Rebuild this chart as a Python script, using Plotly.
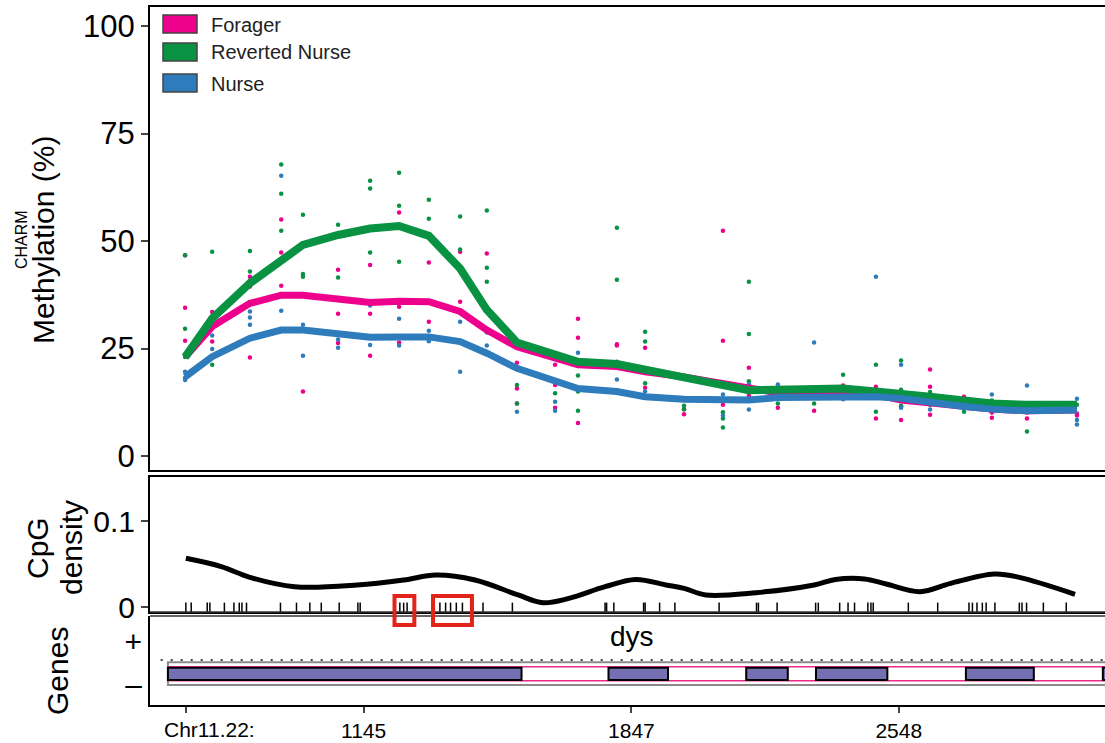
import plotly.graph_objects as go

# ---------------- data ----------------
# CHARM probe positions along the locus (bp)
probe_pos = [677, 748, 847, 929, 986, 1078, 1162, 1238, 1316, 1398, 1468, 1547, 1647, 1707,
             1809, 1883, 1985, 2087, 2155, 2231, 2326, 2402, 2488, 2554, 2630, 2719, 2792,
             2884, 3015]

# smoothed group methylation (%)
forager_mean = [23.0, 30.1, 35.5, 37.4, 37.4, 36.3, 35.7, 36.0, 35.9, 33.6, 29.3, 25.4, 22.7,
                21.2, 20.8, 19.6, 18.4, 17.0, 15.7, 14.7, 15.3, 14.6, 14.2, 13.0, 12.2, 11.5,
                10.9, 10.5, 10.7]
reverted_mean = [23.0, 32.0, 40.2, 45.6, 49.1, 51.4, 52.9, 53.5, 51.2, 43.6, 34.0, 26.4, 23.3,
                 21.9, 21.4, 20.2, 18.6, 16.5, 15.3, 15.3, 15.7, 15.7, 15.0, 14.6, 13.8, 12.9,
                 12.2, 11.9, 11.9]
nurse_mean = [18.4, 23.1, 27.4, 29.3, 29.3, 28.5, 27.6, 27.7, 27.7, 26.6, 23.9, 20.4, 17.7,
              15.7, 15.0, 13.8, 13.2, 12.9, 13.0, 13.6, 13.8, 13.8, 13.8, 13.4, 12.4, 11.5,
              10.9, 10.5, 10.7]

# individual sample values at each probe (%)
forager_samples = [[46.7, 34.5, 26.8], [33.5, 26.6], [41.7, 40.8, 39.4, 22.9], [55.0, 47.3, 39.6],
                   [49.5, 15.0], [43.3, 33.1, 26.3], [44.4, 33.1, 23.3], [56.6, 34.7, 26.4],
                   [45.0, 31.2], [47.5, 35.9], [47.1], [21.7, 15.7, 12.2], [21.2, 16.5, 11.2],
                   [31.9, 27.5, 7.7], [26.0, 25.7], [25.2, 15.9], [10.9, 9.7],
                   [52.4, 26.8, 11.9], [20.5, 14.0], [11.2], [10.5], [16.4], [16.1, 8.7],
                   [11.5, 8.4], [20.1, 16.1, 9.6], [13.8], [10.1, 8.9], [10.1, 8.7], [9.9, 9.4]]
reverted_samples = [[46.7, 29.6, 23.0], [47.5, 21.2], [47.7, 42.9], [67.8, 61.0, 52.4],
                    [56.1, 42.3, 41.7], [53.8, 41.5], [64.0, 62.2, 47.3], [65.9, 58.2, 45.2],
                    [59.6, 55.2], [55.7, 48.0], [57.1, 43.8, 40.5], [16.5, 12.2], [14.6],
                    [18.7, 15.0, 10.5], [53.1, 41.0, 21.9], [28.9, 26.6, 16.9], [11.7, 10.9],
                    [10.2, 8.7, 6.6], [40.5, 28.4, 17.4], [12.2], [12.2], [18.9], [21.2, 10.3],
                    [22.2, 15.4, 11.7], [14.9, 11.9], [10.3], [12.9], [5.7], [11.9]]
nurse_samples = [[19.6, 18.2, 17.7], [28.0, 24.9], [33.6, 32.2, 30.5], [65.2, 33.8],
                 [30.5, 23.3], [27.1, 25.2], [35.0, 25.8], [31.9, 25.7], [29.1, 26.7],
                 [31.2, 19.6], [28.7, 25.7], [10.3], [12.6, 10.5], [24.0], [17.8], [15.0],
                 [], [14.3, 9.4], [16.7, 10.8], [16.6], [26.4], [13.2], [41.7], [21.2, 11.2],
                 [10.8], [], [14.3], [16.4], [13.3, 8.4, 7.3]]

groups = ["Forager", "Reverted Nurse", "Nurse"]

# CpG density curve
density_pos = [679, 772, 847, 964, 1128, 1250, 1334, 1437, 1550, 1615, 1683, 1778, 1858, 1938,
               1985, 2042, 2174, 2326, 2382, 2458, 2515, 2604, 2684, 2798, 2864, 3010]
density_val = [0.0566, 0.047, 0.0345, 0.0236, 0.0256, 0.0314, 0.0372, 0.0314, 0.014, 0.005,
               0.010, 0.0236, 0.032, 0.0256, 0.0217, 0.014, 0.0167, 0.0256, 0.032, 0.0326,
               0.0267, 0.0178, 0.0275, 0.0384, 0.0345, 0.0148]

# individual CpG sites
cpg_pos = [679, 693, 735, 742, 780, 805, 819, 826, 838, 927, 969, 1004, 1034, 1081, 1130, 1136,
           1240, 1250, 1259, 1345, 1360, 1373, 1388, 1404, 1458, 1535, 1778, 1782, 1801, 1879,
           1883, 1921, 1961, 2077, 2175, 2180, 2229, 2330, 2337, 2393, 2415, 2432, 2467, 2475,
           2481, 2573, 2650, 2732, 2741, 2753, 2767, 2777, 2800, 2864, 2871, 2883, 2927, 2987]

# highlighted CpG clusters (start, end)
highlight_regions = [(1226, 1278), (1327, 1429)]

# gene model (minus strand): transcript span and exons
gene_name = "dys"
gene_span = (632, 3300)
exons = [(632, 1559), (1787, 1943), (2148, 2257), (2331, 2518), (2724, 2902), (3083, 3300)]

# axis labels
x_ticks = [679, 1145, 1847, 2548]
x_ticktext = ["", "1145", "1847", "2548"]
chrom_label = "Chr11.22:"

# ---------------- styling ----------------
FONT = "Liberation Sans, Arial, Helvetica, sans-serif"
colors = {"Forager": "#EC008C", "Reverted Nurse": "#0A9243", "Nurse": "#2E7CBC"}
W, H = 1105, 743
XR = [585, 3088.6]


def px(x):
    return x / W


def py(y):
    return 1 - y / H


fig = go.Figure()

# sample points
for name, samples in zip(groups, [forager_samples, reverted_samples, nurse_samples]):
    xs, ys = [], []
    for p, vals in zip(probe_pos, samples):
        for v in vals:
            xs.append(p)
            ys.append(v)
    fig.add_trace(go.Scatter(x=xs, y=ys, mode="markers", xaxis="x", yaxis="y",
                             marker=dict(size=4.5, color=colors[name]),
                             showlegend=False, hoverinfo="skip"))

# smoothed lines
for name, mean, lw in [("Forager", forager_mean, 7), ("Reverted Nurse", reverted_mean, 8),
                       ("Nurse", nurse_mean, 7)]:
    fig.add_trace(go.Scatter(x=probe_pos, y=mean, mode="lines", xaxis="x", yaxis="y",
                             line=dict(color=colors[name], width=lw),
                             showlegend=False, name=name))

# CpG density
fig.add_trace(go.Scatter(x=density_pos, y=density_val, mode="lines", xaxis="x2", yaxis="y2",
                         line=dict(color="black", width=5, shape="spline", smoothing=1.0),
                         showlegend=False))
fig.add_trace(go.Scatter(x=cpg_pos, y=[-0.0006] * len(cpg_pos), mode="markers",
                         xaxis="x2", yaxis="y2",
                         marker=dict(symbol="line-ns-open", size=7, color="black",
                                     line=dict(color="black", width=1.5)),
                         showlegend=False))

shapes = []
# gene track
shapes.append(dict(type="line", xref="x3", yref="y3", x0=613, x1=3300, y0=0.116, y1=0.116,
                   line=dict(color="black", width=1.5, dash="2px,8px")))
shapes.append(dict(type="rect", xref="x3", yref="y3", x0=gene_span[0], x1=gene_span[1],
                   y0=-1.047, y1=0.01, line=dict(color="#8a8a8a", width=2), fillcolor="white"))
shapes.append(dict(type="rect", xref="x3", yref="y3", x0=gene_span[0], x1=gene_span[1],
                   y0=-0.847, y1=-0.195, line=dict(color="#EE2A8E", width=1.5)))
for s, e in exons:
    shapes.append(dict(type="rect", xref="x3", yref="y3", x0=s, x1=e, y0=-0.814, y1=-0.242,
                       line=dict(color="black", width=2), fillcolor="#7470B3"))

# double separator lines between panels
shapes.append(dict(type="line", xref="paper", yref="paper", x0=px(150), x1=1,
                   y0=py(612), y1=py(612), line=dict(color="#333", width=1.5)))
shapes.append(dict(type="line", xref="paper", yref="paper", x0=px(150), x1=1,
                   y0=py(616), y1=py(616), line=dict(color="#333", width=1.5)))

# highlighted CpG clusters
for s, e in highlight_regions:
    shapes.append(dict(type="rect", xref="x2", yref="paper", x0=s, x1=e,
                       y0=py(625), y1=py(596), line=dict(color="#E2231A", width=4)))

# legend swatches
legend_rows = [(15, 33, 25), (43, 61, 52), (74, 92, 84)]
annotations = []
for name, (t, b, c) in zip(groups, legend_rows):
    shapes.append(dict(type="rect", xref="paper", yref="paper", x0=px(163), x1=px(197),
                       y0=py(b), y1=py(t), fillcolor=colors[name],
                       line=dict(color="#444", width=1.5)))
    annotations.append(dict(text=name, xref="paper", yref="paper", x=px(209), y=py(c),
                            xanchor="left", yanchor="middle", showarrow=False,
                            font=dict(size=20, color="#222", family=FONT)))

# axis titles
for txt, x, y, size in [("CHARM", 22, 240, 16), ("Methylation (%)", 44, 240, 30),
                        ("CpG", 37, 548, 30), ("density", 71, 548, 30),
                        ("Genes", 57, 671, 30)]:
    annotations.append(dict(text=txt, xref="paper", yref="paper", x=px(x), y=py(y),
                            xanchor="center", yanchor="middle", textangle=-90,
                            showarrow=False, font=dict(size=size, color="black", family=FONT)))

annotations.append(dict(text=chrom_label, xref="paper", yref="paper", x=px(162), y=py(729),
                        xanchor="left", yanchor="middle", showarrow=False,
                        font=dict(size=21, color="black", family=FONT)))
annotations.append(dict(text=gene_name, xref="x3", yref="y3", x=1848, y=1.19,
                        xanchor="center", yanchor="middle", showarrow=False,
                        font=dict(size=28, color="black", family=FONT)))

xdom = [px(150), 1.0]
common_x = dict(range=XR, domain=xdom, showgrid=False, zeroline=False, showline=True,
                mirror=True, linecolor="black", linewidth=2, automargin=False)

# panel vertical extents (top, bottom) in pixels
top_panel = (7, 469.5)
mid_panel = (477, 612)
gene_panel = (616, 705)

fig.update_layout(
    width=W, height=H,
    margin=dict(l=0, r=0, t=0, b=0, autoexpand=False),
    paper_bgcolor="white", plot_bgcolor="white",
    font=dict(family=FONT, color="black"),
    showlegend=False,
    xaxis=dict(**common_x, anchor="y", showticklabels=False, ticks=""),
    xaxis2=dict(**common_x, anchor="y2", showticklabels=False, ticks=""),
    xaxis3=dict(range=XR, domain=xdom, showgrid=False, zeroline=False, showline=True,
                mirror=False, linecolor="black", linewidth=2, anchor="y3", automargin=False,
                tickvals=x_ticks, ticktext=x_ticktext, ticks="outside", ticklen=6,
                tickwidth=2, tickfont=dict(size=21, family=FONT)),
    yaxis=dict(domain=[py(top_panel[1]), py(top_panel[0])],
               range=[(456 - top_panel[1]) / 4.3, (456 - top_panel[0]) / 4.3], anchor="x",
               tickvals=[0, 25, 50, 75, 100], ticks="outside", ticklen=7, tickwidth=2,
               showline=True, linecolor="black", linewidth=2, showgrid=False, zeroline=False,
               automargin=False, tickfont=dict(size=31, family=FONT)),
    yaxis2=dict(domain=[py(mid_panel[1]), py(mid_panel[0])],
                range=[(607 - mid_panel[1]) / 860, (607 - mid_panel[0]) / 860], anchor="x2",
                tickvals=[0, 0.1], ticktext=["0", "0.1"], ticks="outside", ticklen=7,
                tickwidth=2, showline=True, linecolor="black", linewidth=2, showgrid=False,
                zeroline=False, automargin=False, tickfont=dict(size=30, family=FONT)),
    yaxis3=dict(domain=[py(gene_panel[1]), py(gene_panel[0])], range=[-1.9767, 2.1628],
                anchor="x3", tickvals=[1, -1], ticktext=["+", "–"], ticks="", showline=True,
                linecolor="black", linewidth=2, showgrid=False, zeroline=False,
                automargin=False, tickfont=dict(size=30, family=FONT)),
    shapes=shapes,
    annotations=annotations,
)

fig.write_html("out.html")
